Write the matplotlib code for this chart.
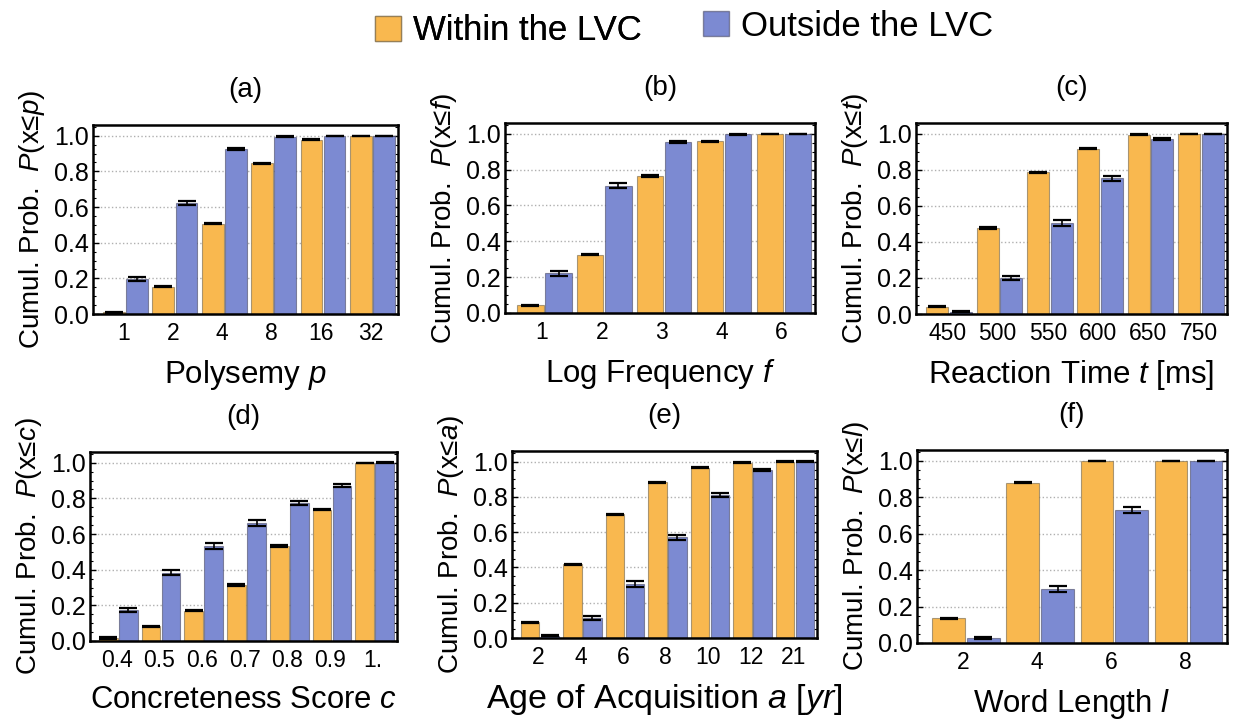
import numpy as np
import matplotlib
matplotlib.use("Agg")
import matplotlib.pyplot as plt
from matplotlib.patches import Patch
from matplotlib.ticker import MultipleLocator

plt.rcParams['font.family'] = ['Liberation Sans', 'DejaVu Sans']
plt.rcParams['mathtext.fontset'] = 'custom'
plt.rcParams['mathtext.it'] = 'Liberation Sans:italic'
plt.rcParams['mathtext.rm'] = 'Liberation Sans'

# --- data (cumulative probabilities, +- error) ---
poly_cats = ['1', '2', '4', '8', '16', '32']
poly_in = [0.01, 0.154, 0.506, 0.846, 0.978, 1.0]
poly_out = [0.195, 0.622, 0.925, 0.994, 1.0, 1.0]
poly_in_err = [0.004, 0.004, 0.004, 0.003, 0.002, 0.001]
poly_out_err = [0.012, 0.013, 0.008, 0.003, 0.001, 0.001]

freq_cats = ['1', '2', '3', '4', '6']
freq_in = [0.042, 0.326, 0.764, 0.958, 1.0]
freq_out = [0.221, 0.709, 0.952, 0.996, 1.0]
freq_in_err = [0.003, 0.004, 0.004, 0.003, 0.001]
freq_out_err = [0.012, 0.014, 0.006, 0.002, 0.001]

rt_cats = ['450', '500', '550', '600', '650', '750']
rt_in = [0.04, 0.479, 0.786, 0.918, 0.996, 1.0]
rt_out = [0.012, 0.2, 0.506, 0.753, 0.969, 1.0]
rt_in_err = [0.003, 0.005, 0.004, 0.003, 0.001, 0.001]
rt_out_err = [0.003, 0.012, 0.016, 0.014, 0.005, 0.001]

conc_cats = ['0.4', '0.5', '0.6', '0.7', '0.8', '0.9', '1.']
conc_in = [0.017, 0.082, 0.171, 0.314, 0.532, 0.737, 1.0]
conc_out = [0.174, 0.384, 0.532, 0.662, 0.774, 0.872, 1.0]
conc_in_err = [0.003, 0.003, 0.004, 0.004, 0.004, 0.003, 0.001]
conc_out_err = [0.012, 0.015, 0.016, 0.016, 0.013, 0.011, 0.002]

aoa_cats = ['2', '4', '6', '8', '10', '12', '21']
aoa_in = [0.088, 0.417, 0.701, 0.884, 0.966, 0.994, 1.0]
aoa_out = [0.013, 0.112, 0.305, 0.570, 0.809, 0.953, 1.0]
aoa_in_err = [0.004, 0.005, 0.004, 0.003, 0.002, 0.001, 0.001]
aoa_out_err = [0.003, 0.012, 0.017, 0.016, 0.012, 0.006, 0.001]

len_cats = ['2', '4', '6', '8']
len_in = [0.136, 0.880, 0.998, 1.0]
len_out = [0.029, 0.296, 0.731, 1.0]
len_in_err = [0.004, 0.003, 0.001, 0.001]
len_out_err = [0.005, 0.016, 0.016, 0.001]

c_in = '#F9B84F'
c_out = '#7C8AD2'

fig = plt.figure(figsize=(12.38, 7.23), dpi=100)
W, H = 1238., 723.

def add_ax(l, r, t, b):
    return fig.add_axes([l / W, 1 - b / H, (r - l) / W, (b - t) / H])

panels = [
    ((93, 398, 125, 314), '(a)', poly_cats, poly_in, poly_out, poly_in_err, poly_out_err,
     'Polysemy $p$', 'p', 22.5),
    ((505, 815, 123, 313), '(b)', freq_cats, freq_in, freq_out, freq_in_err, freq_out_err,
     'Log Frequency $f$', 'f', 22.5),
    ((916, 1227, 123, 314), '(c)', rt_cats, rt_in, rt_out, rt_in_err, rt_out_err,
     'Reaction Time $t$ [ms]', 't', 22.5),
    ((90, 397, 452, 641), '(d)', conc_cats, conc_in, conc_out, conc_in_err, conc_out_err,
     'Concreteness Score $c$', 'c', 22.3),
    ((512, 817, 451, 638), '(e)', aoa_cats, aoa_in, aoa_out, aoa_in_err, aoa_out_err,
     'Age of Acquisition $a$ [$yr$]', 'a', 24.5),
    ((917, 1227, 450, 643), '(f)', len_cats, len_in, len_out, len_in_err, len_out_err,
     'Word Length $l$', 'l', 22.5),
]

bw = 0.44
for box, title, cats, vin, vout, ein, eout, xlab, var, xfs in panels:
    ax = add_ax(*box)
    x = np.arange(len(cats))
    ax.bar(x - 0.235, vin, bw, color=c_in, edgecolor=(0.45, 0.4, 0.3, 0.6), linewidth=0.8, zorder=2)
    ax.bar(x + 0.235, vout, bw, color=c_out, edgecolor=(0.3, 0.3, 0.4, 0.6), linewidth=0.8, zorder=2)
    ax.errorbar(x - 0.235, vin, yerr=ein, fmt='none', ecolor='black', elinewidth=1.2,
                capsize=6.5, capthick=1.6, zorder=3)
    ax.errorbar(x + 0.235, vout, yerr=eout, fmt='none', ecolor='black', elinewidth=1.2,
                capsize=6.5, capthick=1.6, zorder=3)
    ax.set_xlim(-0.66, len(cats) - 1 + 0.52)
    ax.set_ylim(0, 1.06)
    ax.set_yticks([0, 0.2, 0.4, 0.6, 0.8, 1.0])
    ax.set_yticklabels(['0.0', '0.2', '0.4', '0.6', '0.8', '1.0'])
    ax.yaxis.set_minor_locator(MultipleLocator(0.05))
    ax.set_xticks(x - 0.04)
    ax.set_xticklabels(cats)
    ax.tick_params(axis='y', which='major', direction='in', length=4, width=1, labelsize=18,
                   right=True, pad=3)
    ax.tick_params(axis='y', which='minor', direction='in', length=2, width=0.8, right=True)
    ax.tick_params(axis='x', length=0, labelsize=16.5, pad=6)
    for sp in ax.spines.values():
        sp.set_linewidth(1.8)
    ax.grid(axis='y', linestyle=':', color='#b0b0b0', linewidth=1.0, zorder=0)
    ax.set_axisbelow(True)
    ax.set_title(title, fontsize=20, pad=20)
    ax.set_xlabel(xlab, fontsize=xfs, labelpad=9)
    ax.set_ylabel('Cumul. Prob.  $P$(x≤$%s$)' % var, fontsize=20, labelpad=5)

# legend on top, two entries slightly offset vertically as in the original
h_in = Patch(facecolor=c_in, edgecolor=(0.45, 0.4, 0.3, 0.6))
h_out = Patch(facecolor=c_out, edgecolor=(0.3, 0.3, 0.4, 0.6))
leg_kw = dict(loc='center left', frameon=False, fontsize=25, handlelength=0.75, handleheight=0.7,
              handletextpad=0.35, borderaxespad=0, borderpad=0)
leg1 = fig.legend([h_in], ['Within the LVC'], bbox_to_anchor=(375 / W, 1 - 31 / H), **leg_kw)
fig.add_artist(leg1)
fig.legend([h_out], ['Outside the LVC'], bbox_to_anchor=(703 / W, 1 - 26 / H), **leg_kw)

fig.savefig('out.png', dpi=100)
